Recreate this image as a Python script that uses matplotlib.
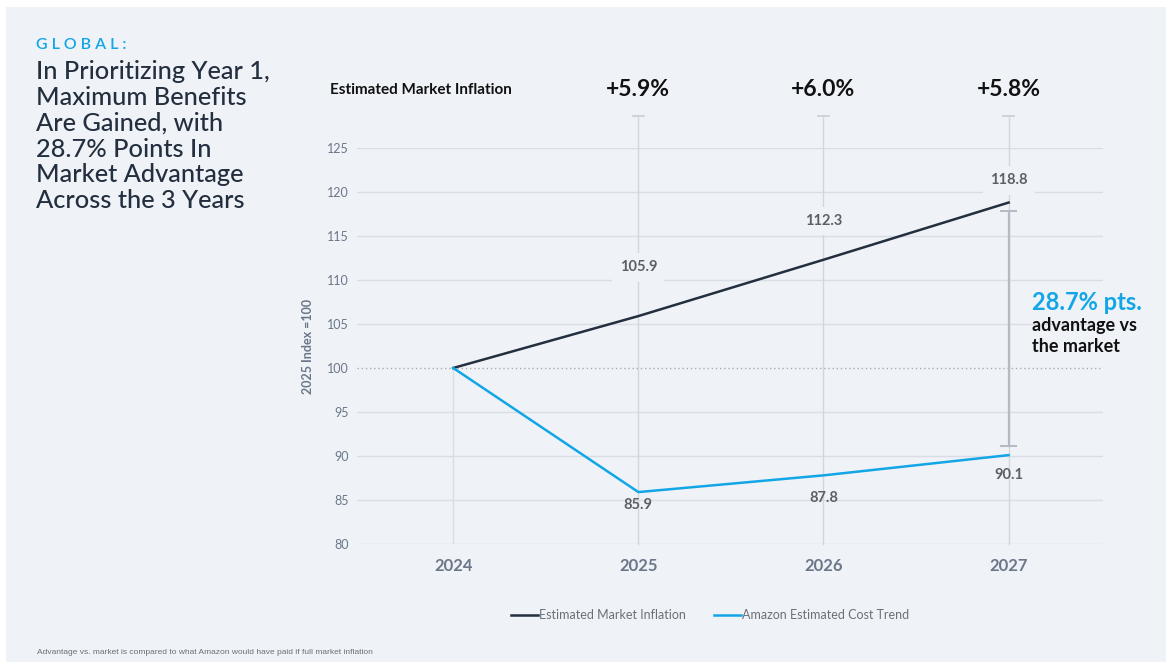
import matplotlib.pyplot as plt
from matplotlib.patches import Rectangle
from matplotlib.lines import Line2D

plt.rcParams['font.family'] = ['Lato', 'DejaVu Sans']

# ---- data ----
years = [2024, 2025, 2026, 2027]
market = [100, 105.9, 112.3, 118.8]
amazon = [100, 85.9, 87.8, 90.1]
growth_labels = ['+5.9%', '+6.0%', '+5.8%']
y_ticks = [80, 85, 90, 95, 100, 105, 110, 115, 120, 125]

BG = '#eff3f8'
INK = '#232f3e'
BLUE = '#12a6e6'
GRID = '#d9dde4'
TICKC = '#6b7688'
VAL = '#5c5f66'

W, H = 1167, 662
fig = plt.figure(figsize=(W / 100, H / 100), dpi=100)
fig.patch.set_facecolor('white')
fig.add_artist(Rectangle((6 / W, 0), (1160) / W, (H - 7) / H, transform=fig.transFigure,
                         facecolor=BG, edgecolor='none', zorder=-10))

ax = fig.add_axes([357 / W, 1 - 544 / H, (1103 - 357) / W, (544 - 148) / H])
ax.set_facecolor('none')
ax.set_xlim(2023.48, 2027.51)
ax.set_ylim(80, 125)
for s in ax.spines.values():
    s.set_visible(False)

ax.set_yticks(y_ticks)
ax.set_yticklabels([str(v) for v in y_ticks])
ax.set_xticks(years)
ax.set_xticklabels([str(y) for y in years])
ax.tick_params(axis='y', length=0, pad=6, labelsize=9, labelcolor=TICKC)
ax.tick_params(axis='x', length=0, pad=10, labelsize=12, labelcolor=TICKC)
for lab in ax.get_xticklabels():
    lab.set_fontweight('bold')

for v in y_ticks:
    if v == 100:
        ax.axhline(v, color='#a9adb3', lw=1.0, ls=(0, (1, 2)), zorder=1)
    else:
        ax.axhline(v, color=GRID, lw=1.0, zorder=0)

ax.set_ylabel('2025 Index =100', fontsize=9, color=TICKC, fontweight='bold', labelpad=9)

# vertical guides
top_v = 128.6
ax.plot([2024, 2024], [80, 100], color=GRID, lw=1.0, zorder=0)
for x in years[1:]:
    ax.plot([x, x], [80, top_v], color='#d2d6dd', lw=1.0, zorder=0, clip_on=False)
    ax.plot([x - 0.03, x + 0.03], [top_v, top_v], color='#c9cdd4', lw=1.2, clip_on=False, zorder=0)

# growth labels above
for x, g in zip(years[1:], growth_labels):
    ax.annotate(g, (x, top_v), xytext=(0, 12), textcoords='offset points',
                ha='center', va='bottom', fontsize=16.5, fontweight='bold', color='#111111',
                annotation_clip=False)

# advantage bracket
ax.plot([2027, 2027], [91.1, 117.8], color='#b4bac3', lw=1.6, zorder=2)
for yb in (91.1, 117.8):
    ax.plot([2026.96, 2027.04], [yb, yb], color='#b4bac3', lw=1.4, zorder=2)

ax.plot(years, market, color=INK, lw=1.8, zorder=4, label='Estimated Market Inflation')
ax.plot(years, amazon, color=BLUE, lw=1.8, zorder=4, label='Amazon Estimated Cost Trend')

# value labels
mk_off = [None, 35, 28, 16]
am_off = [None, -9, -16, -14]
for i in range(1, 4):
    ax.annotate(f'{market[i]:.1f}', (years[i], market[i]), xytext=(0, mk_off[i]),
                textcoords='offset points', ha='center', va='center', fontsize=10.5,
                fontweight='bold', color=VAL, zorder=5,
                bbox=dict(boxstyle='square,pad=0.5', fc=BG, ec='none'))
    ax.annotate(f'{amazon[i]:.1f}', (years[i], amazon[i]), xytext=(0, am_off[i]),
                textcoords='offset points', ha='center', va='center', fontsize=10.5,
                fontweight='bold', color=VAL, zorder=5)

# headings
fig.text(330 / W, 1 - 90 / H, 'Estimated Market Inflation', fontsize=11, fontweight='bold',
         color='#111111', va='center', ha='left')
fig.text(1032 / W, 1 - 302 / H, '28.7% pts.', fontsize=17, fontweight='bold', color=BLUE,
         va='center', ha='left')
fig.text(1032 / W, 1 - 336 / H, 'advantage vs\nthe market', fontsize=13, fontweight='bold',
         color='#111111', va='center', ha='left', linespacing=1.3)

fig.text(36 / W, 1 - 45 / H, 'G L O B A L :', fontsize=11.5, color=BLUE, va='center', ha='left',
         fontweight='semibold')
fig.text(36 / W, 1 - 60 / H,
         'In Prioritizing Year 1,\nMaximum Benefits\nAre Gained, with\n28.7% Points In\nMarket Advantage\nAcross the 3 Years',
         fontsize=18.3, color=INK, va='top', ha='left', linespacing=1.15, fontweight='medium')

fig.text(37 / W, 1 - 653 / H,
         'Advantage vs. market is compared to what Amazon would have paid if full market inflation',
         fontsize=6, color='#6b6f76', va='center', ha='left', family='Liberation Sans')

handles = [Line2D([], [], color=INK, lw=1.8), Line2D([], [], color=BLUE, lw=1.8)]
fig.legend(handles, ['Estimated Market Inflation', 'Amazon Estimated Cost Trend'],
           loc='center', bbox_to_anchor=(710 / W, 1 - 615 / H), ncol=2, frameon=False,
           fontsize=9, labelcolor='#6b7078', handlelength=2.2, handletextpad=0.1,
           columnspacing=2.2)

fig.savefig('out.png', dpi=100, facecolor=fig.get_facecolor())
